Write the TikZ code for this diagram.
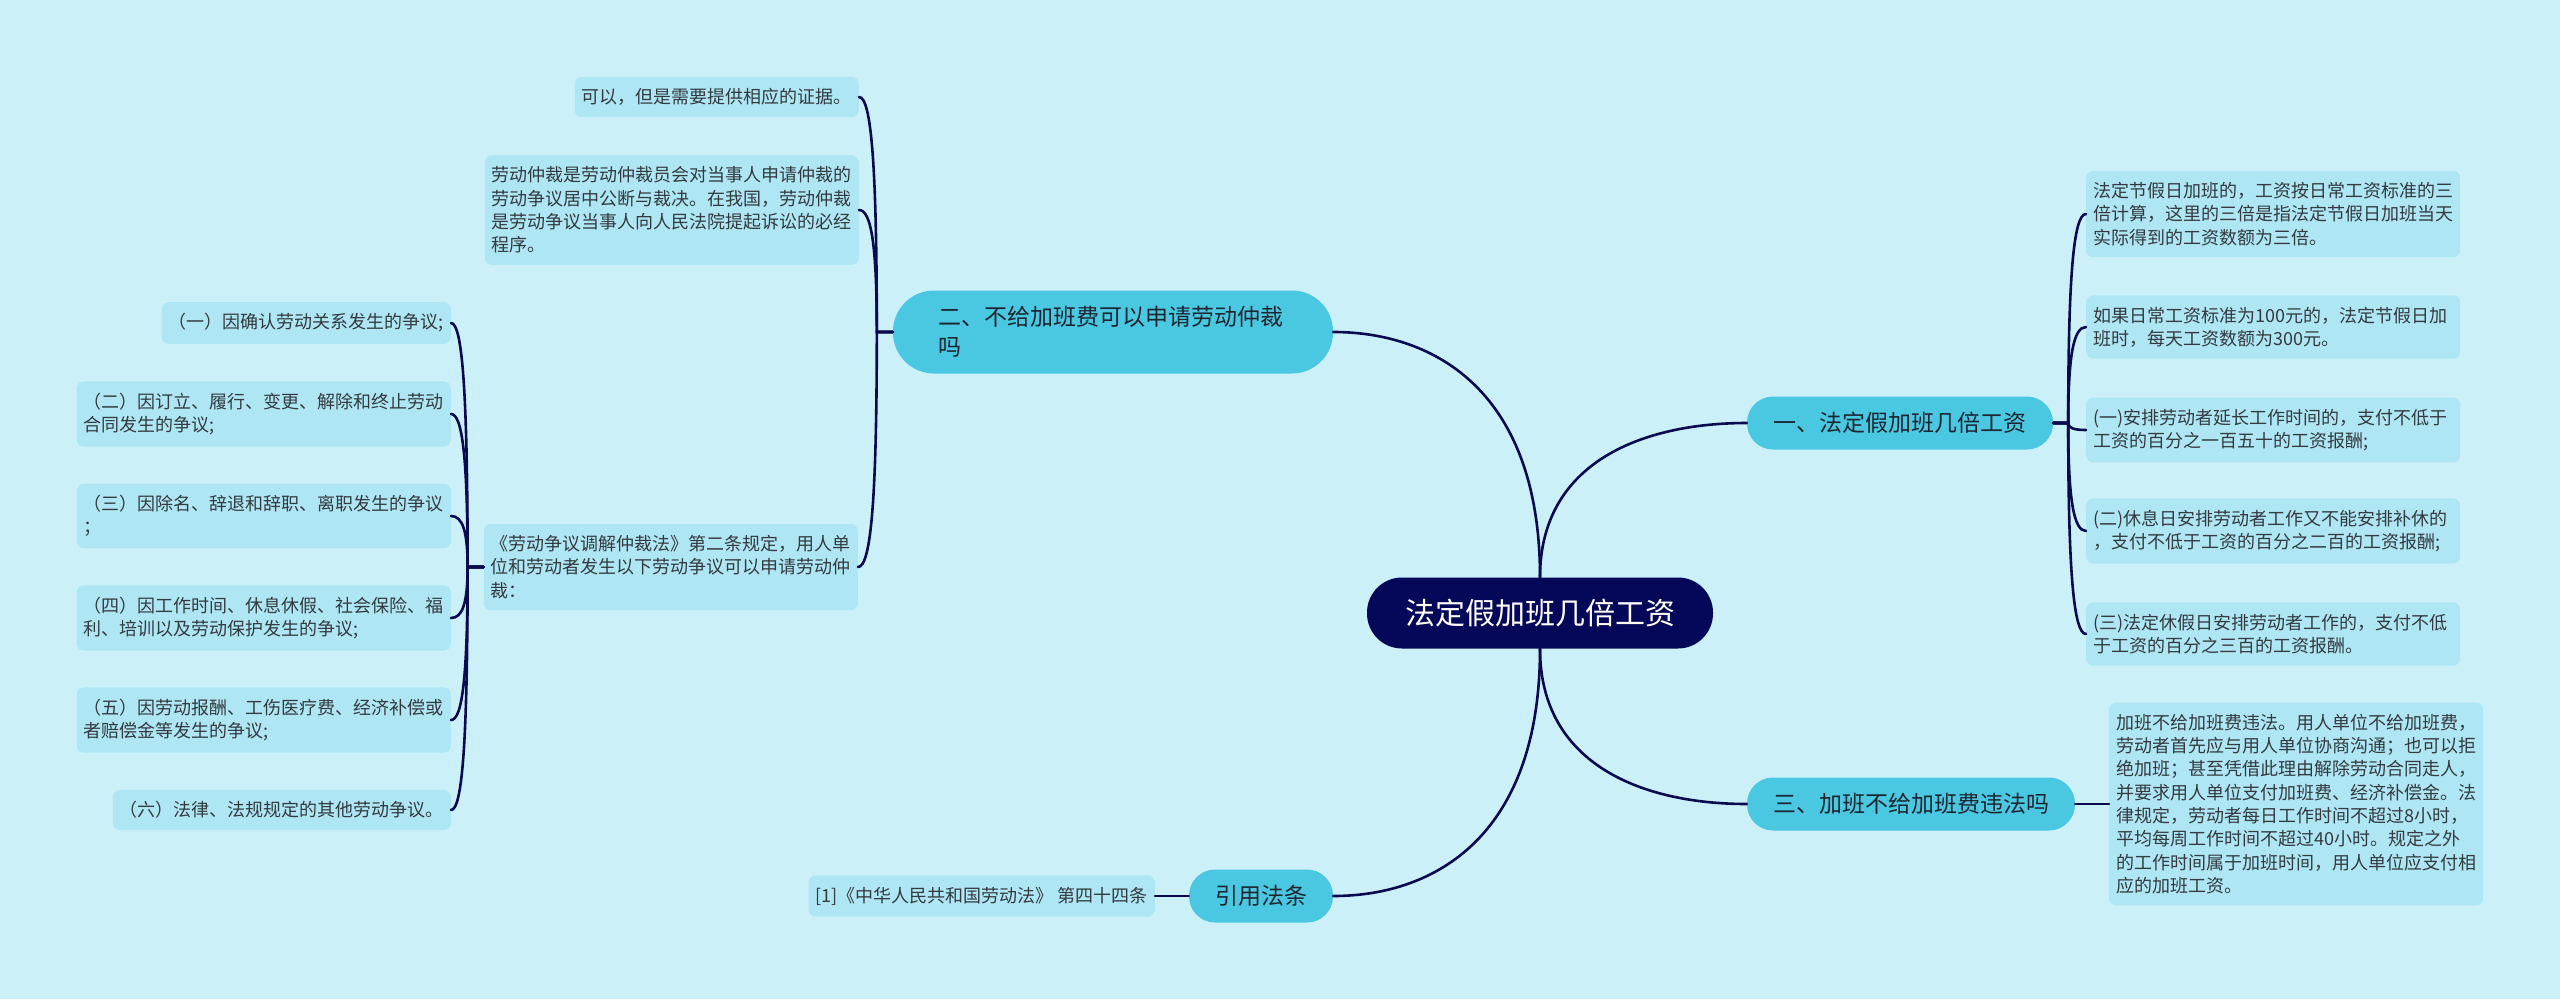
\documentclass[tikz,border=0pt]{standalone}
\usepackage{fontspec}
\newfontfamily\cjk{Noto Sans CJK SC}
\usetikzlibrary{calc}
\definecolor{bgcol}{HTML}{CCF0F8}
\definecolor{leafcol}{HTML}{AFE6F3}
\definecolor{brcol}{HTML}{4AC7E1}
\definecolor{rootcol}{HTML}{050858}
\definecolor{linecol}{HTML}{0A0A50}
\definecolor{leaftext}{HTML}{333A40}
\definecolor{brtext}{HTML}{1C2630}
\newcommand\brlink[3]{\draw[linkline] (#1) -- (#2) .. controls ($(#2)!0.7!(#2|-#3)$) and ($(#3)!0.7!(#2|-#3)$) .. (#3);}
\begin{document}
\begin{tikzpicture}[x=1pt,y=-1pt,
  rootbox/.style={fill=rootcol,text=white,font=\cjk\fontsize{30pt}{36pt}\selectfont,minimum width=346pt,minimum height=71pt,rounded corners=35pt,inner sep=0pt},
  brbox/.style={fill=brcol,text=brtext,font=\cjk\fontsize{23pt}{30pt}\selectfont,minimum height=53pt,rounded corners=26pt,inner xsep=10pt,inner ysep=0pt},
  leafbox/.style={fill=leafcol,text=leaftext,font=\cjk\fontsize{18pt}{23.3pt}\selectfont,rounded corners=7pt,inner xsep=7pt,inner ysep=11.5pt,align=left},
  wideleaf/.style={leafbox,text width=360pt},
  linkline/.style={draw=linecol,line width=2.6pt,line cap=round}]
\fill[bgcol] (0,0) rectangle (2560,999);
\useasboundingbox (0,0) rectangle (2560,999);

% root and branches
\node[rootbox] (c) at (1540,613) {法定假加班几倍工资};
\node[brbox,minimum width=306pt] (one) at (1900,423) {一、法定假加班几倍工资};
\node[brbox,minimum width=328pt] (three) at (1911,804) {三、加班不给加班费违法吗};
\node[brbox,minimum width=144pt] (cite) at (1261,896) {引用法条};
\node[brbox,text width=350pt,align=left,inner xsep=45pt,minimum height=83pt,rounded corners=41pt] (two) at (1113,332) {二、不给加班费可以申请劳动仲裁\\吗};

% right leaves
\node[wideleaf,anchor=west] (r1) at (2086,214) {法定节假日加班的，工资按日常工资标准的三\\倍计算，这里的三倍是指法定节假日加班当天\\实际得到的工资数额为三倍。};
\node[wideleaf,anchor=west] (r2) at (2086,327) {如果日常工资标准为100元的，法定节假日加\\班时，每天工资数额为300元。};
\node[wideleaf,anchor=west] (r3) at (2086,430) {(一)安排劳动者延长工作时间的，支付不低于\\工资的百分之一百五十的工资报酬;};
\node[wideleaf,anchor=west] (r4) at (2086,531) {(二)休息日安排劳动者工作又不能安排补休的\\，支付不低于工资的百分之二百的工资报酬;};
\node[wideleaf,anchor=west] (r5) at (2086,634) {(三)法定休假日安排劳动者工作的，支付不低\\于工资的百分之三百的工资报酬。};
\node[wideleaf,anchor=west] (r6) at (2109,804) {加班不给加班费违法。用人单位不给加班费，\\劳动者首先应与用人单位协商沟通；也可以拒\\绝加班；甚至凭借此理由解除劳动合同走人，\\并要求用人单位支付加班费、经济补偿金。法\\律规定，劳动者每日工作时间不超过8小时，\\平均每周工作时间不超过40小时。规定之外\\的工作时间属于加班时间，用人单位应支付相\\应的加班工资。};

% left leaves
\node[leafbox,anchor=east] (l1) at (859,97) {可以，但是需要提供相应的证据。};
\node[wideleaf,anchor=east] (l2) at (859,210) {劳动仲裁是劳动仲裁员会对当事人申请仲裁的\\劳动争议居中公断与裁决。在我国，劳动仲裁\\是劳动争议当事人向人民法院提起诉讼的必经\\程序。};
\node[wideleaf,anchor=east] (l3) at (858,567) {《劳动争议调解仲裁法》第二条规定，用人单\\位和劳动者发生以下劳动争议可以申请劳动仲\\裁：};
\node[leafbox,anchor=east] (ll1) at (451,323) {（一）因确认劳动关系发生的争议;};
\node[wideleaf,anchor=east] (ll2) at (451,414) {（二）因订立、履行、变更、解除和终止劳动\\合同发生的争议;};
\node[wideleaf,anchor=east] (ll3) at (451,516) {（三）因除名、辞退和辞职、离职发生的争议\\；};
\node[wideleaf,anchor=east] (ll4) at (451,618) {（四）因工作时间、休息休假、社会保险、福\\利、培训以及劳动保护发生的争议;};
\node[wideleaf,anchor=east] (ll5) at (451,720) {（五）因劳动报酬、工伤医疗费、经济补偿或\\者赔偿金等发生的争议;};
\node[leafbox,anchor=east] (ll6) at (451,810) {（六）法律、法规规定的其他劳动争议。};
\node[leafbox,anchor=east] (c1) at (1155,896) {[1]《中华人民共和国劳动法》 第四十四条};

% hubs
\coordinate (h1) at ($(one.east)+(15,0)$);
\coordinate (h2) at ($(two.west)+(-16,0)$);
\coordinate (hl) at ($(l3.west)+(-16,0)$);

% root connectors
\draw[linkline] (c.north) .. controls ($(c.north)!0.75!(c.north|-two.east)$) and ($(two.east)!0.5!(c.north|-two.east)$) .. (two.east);
\draw[linkline] (c.north) .. controls ($(c.north)!0.75!(c.north|-one.west)$) and ($(one.west)!0.5!(c.north|-one.west)$) .. (one.west);
\draw[linkline] (c.south) .. controls ($(c.south)!0.75!(c.south|-three.west)$) and ($(three.west)!0.5!(c.south|-three.west)$) .. (three.west);
\draw[linkline] (c.south) .. controls ($(c.south)!0.75!(c.south|-cite.east)$) and ($(cite.east)!0.5!(c.south|-cite.east)$) .. (cite.east);

% branch connectors
\brlink{one.east}{h1}{r1.west}
\brlink{one.east}{h1}{r2.west}
\brlink{one.east}{h1}{r3.west}
\brlink{one.east}{h1}{r4.west}
\brlink{one.east}{h1}{r5.west}
\draw[linkline] (three.east) -- (r6.west);
\draw[linkline] (cite.west) -- (c1.east);
\brlink{two.west}{h2}{l1.east}
\brlink{two.west}{h2}{l2.east}
\brlink{two.west}{h2}{l3.east}
\brlink{l3.west}{hl}{ll1.east}
\brlink{l3.west}{hl}{ll2.east}
\brlink{l3.west}{hl}{ll3.east}
\brlink{l3.west}{hl}{ll4.east}
\brlink{l3.west}{hl}{ll5.east}
\brlink{l3.west}{hl}{ll6.east}
\end{tikzpicture}
\end{document}
